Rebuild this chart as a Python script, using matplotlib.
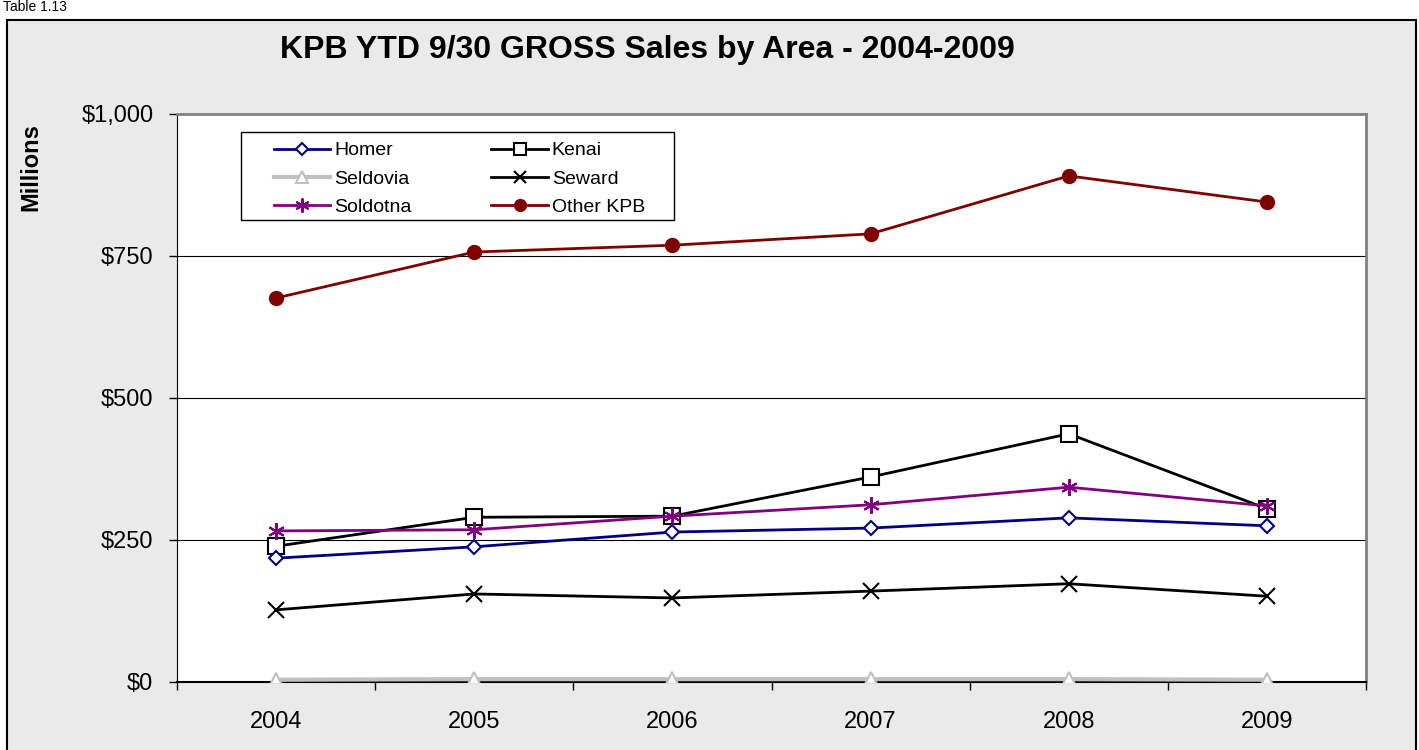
import matplotlib.pyplot as plt
from matplotlib.patches import Rectangle

plt.rcParams['font.family'] = ['Liberation Sans', 'DejaVu Sans']

years = ['2004', '2005', '2006', '2007', '2008', '2009']
homer = [218, 238, 264, 271, 289, 275]
kenai = [239, 290, 292, 361, 437, 305]
seldovia = [4, 5, 5, 5, 5, 4]
seward = [127, 155, 148, 160, 173, 151]
soldotna = [266, 268, 292, 312, 343, 310]
other_kpb = [676, 757, 769, 789, 891, 845]

fig = plt.figure(figsize=(14.19, 7.5), dpi=100)
fig.patch.set_facecolor('white')

# outer chart area (grey box with black border)
fig.patches.append(Rectangle((7 / 1419, -0.01), 1409 / 1419, 1 - 20 / 750 + 0.01,
                             transform=fig.transFigure, facecolor='#EAEAEA',
                             edgecolor='black', linewidth=1.5, zorder=-10))
fig.text(0.002, 1.0, 'Table 1.13', fontsize=10, va='top', ha='left')

ax = fig.add_axes([177 / 1419, 1 - 682 / 750, (1366 - 177) / 1419, (682 - 114) / 750])
ax.set_facecolor('white')

x = range(len(years))
lw = 2
ax.plot(x, homer, color='#000080', lw=lw, marker='D', ms=7, mfc='white', mec='#000080', mew=1.5, label='Homer', zorder=4)
ax.plot(x, kenai, color='black', lw=lw, marker='s', ms=11, mfc='white', mec='black', mew=1.5, label='Kenai', zorder=3)
ax.plot(x, seldovia, color='#C0C0C0', lw=lw + 1, marker='^', ms=10, mfc='white', mec='#C0C0C0', mew=1.5, label='Seldovia', zorder=3)
ax.plot(x, seward, color='black', lw=lw, marker='x', ms=11, mew=1.5, label='Seward', zorder=3)
ax.plot(x, soldotna, color='#800080', lw=lw, marker=(6, 2, 0), ms=12, mew=1.5, mec='#800080', label='Soldotna', zorder=5)
ax.plot(x, other_kpb, color='#800000', lw=lw, marker='o', ms=10, mfc='#800000', mec='#800000', label='Other KPB', zorder=3)

ax.set_xlim(-0.5, 5.5)
ax.set_ylim(0, 1000)
ax.set_yticks([0, 250, 500, 750, 1000])
ax.set_yticklabels(['$0', '$250', '$500', '$750', '$1,000'], fontsize=17)
ax.set_xticks(list(x))
ax.set_xticklabels(years, fontsize=17)
ax.tick_params(axis='x', length=0, pad=21)
ax.set_xticks([i - 0.5 for i in range(len(years) + 1)], minor=True)
ax.tick_params(axis='x', which='minor', length=6, direction='out', width=1)
ax.tick_params(axis='y', length=6, direction='out', width=1, pad=11)
ax.grid(axis='y', color='black', linewidth=0.8)
ax.set_axisbelow(True)

for side in ['top', 'right']:
    ax.spines[side].set_color('#808080')
    ax.spines[side].set_linewidth(2)
ax.spines['left'].set_color('black')
ax.spines['bottom'].set_color('black')
ax.spines['bottom'].set_linewidth(1.5)

ax.set_ylabel('Millions', fontsize=17, fontweight='bold')
ax.yaxis.set_label_coords(-0.113, 0.907)

# legend box drawn separately so the inner padding can match
ax.add_patch(Rectangle((0.0538, 0.813), 0.364, 0.155, transform=ax.transAxes,
                       facecolor='white', edgecolor='black', linewidth=1, zorder=6))
handles, labels = ax.get_legend_handles_labels()
order = [0, 2, 4, 1, 3, 5]
leg = ax.legend([handles[i] for i in order], [labels[i] for i in order], ncol=2,
                loc='upper left', bbox_to_anchor=(0.0816, 0.951), borderaxespad=0,
                fontsize=14, frameon=False, handlelength=2.9, columnspacing=4.1,
                labelspacing=0.55, borderpad=0, handletextpad=0.2, markerscale=0.85)
leg.set_zorder(7)

fig.text(647 / 1419, 1 - 50 / 750, 'KPB YTD 9/30 GROSS Sales by Area - 2004-2009',
         fontsize=23, fontweight='bold', ha='center', va='center')

fig.savefig('out.png', dpi=100)
